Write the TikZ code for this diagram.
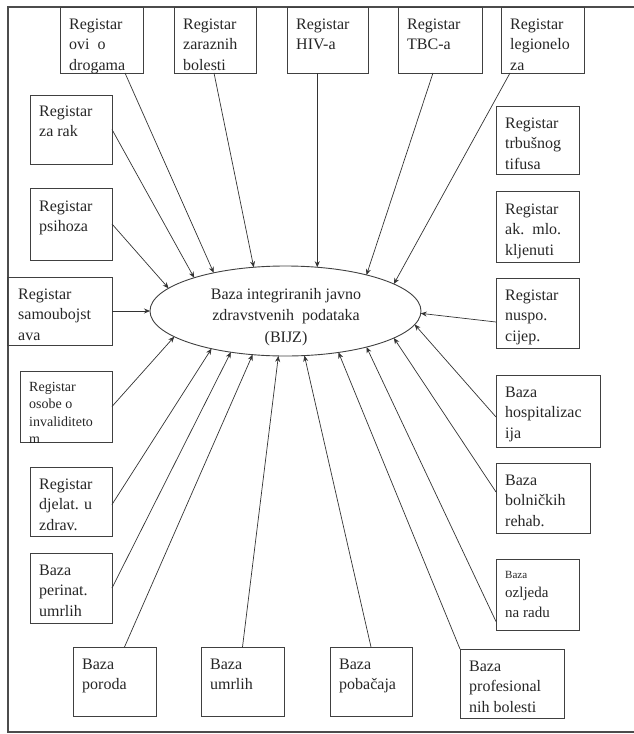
\documentclass[tikz,border=0pt]{standalone}
\usepackage{fontspec}
\setmainfont{Liberation Serif}
\usetikzlibrary{arrows.meta,shapes.geometric,calc}
\newcommand\Fn{\fontsize{16}{20.5}\selectfont}
\newcommand\Fs{\fontsize{14}{17.5}\selectfont}
\newcommand\bx[8]{% name x1 y1 x2 y2 font baseline-offset text
  \node[box, minimum width={(#4-#2)*1pt}, minimum height={(#5-#3)*1pt}] (#1) at ({(#2+#4)/2},{(#3+#5)/2}) {};
  \begin{scope}
    \clip (#1.north west) rectangle (#1.south east);
    \node[txt] (#1t) at ($(#1.north west)+(9,#7)$) {\parbox[t]{150pt}{\raggedright #6 #8}};
  \end{scope}
}
\begin{document}
\begin{tikzpicture}[x=1pt,y=-1pt,
  box/.style={draw=black!75, line width=0.9pt, inner sep=0pt, outer sep=0pt, rectangle},
  arr/.style={draw=black!80, line width=0.7pt, -{Stealth[length=6pt,width=5pt]}},
  txt/.style={inner sep=0pt, anchor=base west, text=black!85}]
\useasboundingbox (0,0) rectangle (634,734);
\draw[black!70, line width=1.3pt] (640,7) -- (8,7) -- (8,732) -- (640,732);

\bx{b1}{60}{7}{143}{73}{\Fn}{22}{Registar\\ovi\ \ o\\drogama}
\bx{b2}{174}{7}{256}{73}{\Fn}{22}{Registar\\zaraznih\\bolesti}
\bx{b3}{287}{7}{368}{73}{\Fn}{22}{Registar\\HIV-a}
\bx{b4}{398}{7}{482}{73}{\Fn}{22}{Registar\\TBC-a}
\bx{b5}{501}{7}{584}{73}{\Fn}{22}{Registar\\legionelo\\za}
\bx{b6}{30}{95}{112}{164}{\Fn}{21}{Registar\\za rak}
\bx{b7}{496}{106}{579}{174}{\Fn}{22}{Registar\\trbušnog\\tifusa}
\bx{b8}{30}{188}{112}{260}{\Fn}{23}{Registar\\psihoza}
\bx{b9}{7}{277}{112}{345}{\Fn}{22}{\hspace*{2pt}Registar\\\hspace*{2pt}samoubojst\\\hspace*{2pt}ava}
\bx{b10}{496}{191}{579}{262}{\Fn}{23}{Registar\\ak.\ \ mlo.\\kljenuti}
\bx{b11}{496}{278}{579}{348}{\Fn}{22}{Registar\\nuspo.\\cijep.}
\bx{b13}{20}{371}{112}{442}{\Fs}{20}{Registar\\osobe o\\invaliditeto\\m}
\bx{b14}{30}{467}{112}{536}{\Fn}{22}{Registar\\djelat. u\\zdrav.}
\bx{b15}{30}{553}{112}{623}{\Fn}{22}{Baza\\perinat.\\umrlih}
\bx{b16}{73}{647}{156}{716}{\Fn}{22}{Baza\\poroda}
\bx{b17}{201}{647}{284}{716}{\Fn}{22}{Baza\\umrlih}
\bx{b18}{330}{647}{412}{716}{\Fn}{22}{Baza\\pobačaja}
\bx{b19}{460}{649}{564}{718}{\Fn}{22}{Baza\\profesional\\nih bolesti}
\bx{b20}{496}{559}{579}{630}{\fontsize{15}{19.5}\selectfont}{19}{{\fontsize{11}{12}\selectfont Baza}\\ozljeda\\na radu}
\bx{b21}{496}{375}{600}{447}{\Fn}{22}{Baza\\hospitalizac\\ija}
\bx{b22}{496}{463}{590}{533}{\Fn}{22}{Baza\\bolničkih\\rehab.}

\node[draw=black!75, line width=0.9pt, ellipse, minimum width=271pt, minimum height=90pt, inner sep=0pt, outer sep=0pt] (E) at (285.5,311) {};
\node[align=center, font=\fontsize{16}{21.5}\selectfont, inner sep=0pt, text=black!85] (Et) at (286,317) {Baza integriranih javno\\zdravstvenih\ \ podataka\\(BIJZ)};

\draw[arr] ($(b1.south west)+(65,0)$) -- (E.152);
\draw[arr] ($(b2.south west)+(40,0)$) -- (E.126);
\draw[arr] (E.54 |- b3.south) -- (E.54);
\draw[arr] ($(b4.south west)+(35,0)$) -- (E.24);
\draw[arr] ($(b5.south west)+(9,0)$) -- (E.14);
\draw[arr] (b6.east) -- (E.160);
\draw[arr] (b8.east) -- (E.169);
\draw[arr] (b9.east) -- (E.180);
\draw[arr] ($(b11.west)+(0,9)$) -- (E.359);
\draw[arr] ($(b21.west)+(0,6)$) -- (E.354);
\draw[arr] ($(b22.west)+(0,-6)$) -- (E.346);
\draw[arr] ($(b20.west)+(0,27)$) -- (E.336);
\draw[arr] (b19.north west) -- (E.322);
\draw[arr] (b18.north) -- (E.293);
\draw[arr] (b17.north) -- (E.261);
\draw[arr] ($(b16.north)+(10,0)$) -- (E.233);
\draw[arr] (b15.east) -- (E.217);
\draw[arr] ($(b14.east)+(0,3)$) -- (E.207);
\draw[arr] (b13.east) -- (E.193);
\end{tikzpicture}
\end{document}
